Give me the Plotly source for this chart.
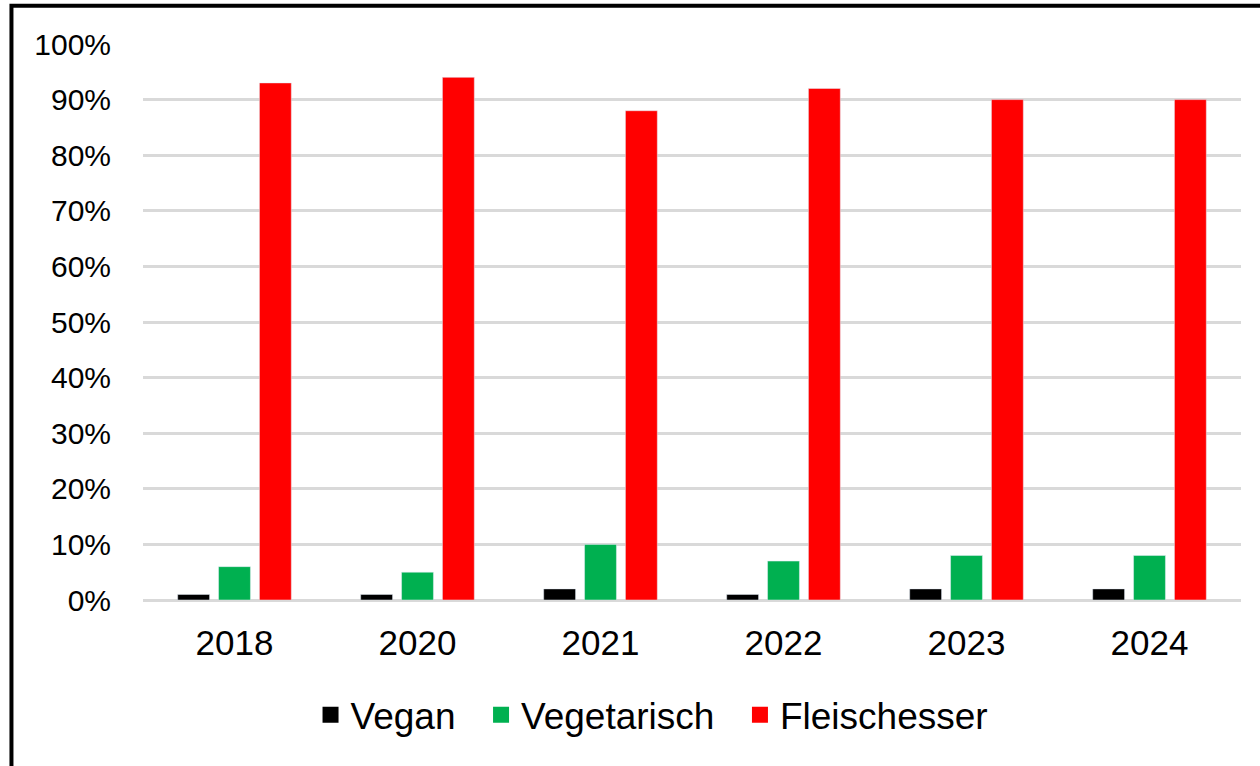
import plotly.graph_objects as go

years = ["2018", "2020", "2021", "2022", "2023", "2024"]
vegan = [0.01, 0.01, 0.02, 0.01, 0.02, 0.02]
vegetarisch = [0.06, 0.05, 0.10, 0.07, 0.08, 0.08]
fleischesser = [0.93, 0.94, 0.88, 0.92, 0.90, 0.90]

series = [("Vegan", vegan, "#000000"),
          ("Vegetarisch", vegetarisch, "#00B050"),
          ("Fleischesser", fleischesser, "#FF0000")]

fig = go.Figure()

for name, vals, col in series:
    fig.add_trace(go.Bar(x=years, y=vals, name=name, marker_color=col,
                         showlegend=False))

# legend entries with bigger square markers (nbsp pads the gap between entries)
pad = "\u00a0\u00a0"
for i, (name, vals, col) in enumerate(series):
    label = name + (pad if i < len(series) - 1 else "")
    fig.add_trace(go.Scatter(x=[None], y=[None], mode="markers", name=label,
                             marker=dict(symbol="square", size=20, color=col)))

font = "Liberation Sans, Arial, sans-serif"

fig.update_layout(
    width=1260, height=766,
    margin=dict(l=143, r=19, t=44, b=166),
    paper_bgcolor="white", plot_bgcolor="white",
    barmode="group", bargap=0.33, bargroupgap=0.22,
    font=dict(family=font, color="#000000"),
    xaxis=dict(type="category", showgrid=False, showline=False,
               ticks="outside", ticklen=12, tickcolor="rgba(0,0,0,0)",
               tickfont=dict(size=35)),
    yaxis=dict(range=[0, 1], dtick=0.1, tickformat=".0%",
               showgrid=True, gridcolor="#d9d9d9", gridwidth=3,
               zeroline=True, zerolinecolor="#d9d9d9", zerolinewidth=3,
               showline=False, ticks="outside", ticklen=25,
               tickcolor="rgba(0,0,0,0)", tickfont=dict(size=30)),
    legend=dict(orientation="h", x=0.4636, y=-0.207, xanchor="center",
                yanchor="middle", font=dict(size=37), itemwidth=30,
                bgcolor="rgba(0,0,0,0)"),
    # black frame on the left and top edges
    shapes=[dict(type="rect", xref="paper", yref="paper",
                 x0=-0.1198, x1=1.1, y0=-0.4, y1=1.069,
                 line=dict(color="black", width=4), layer="above")],
)

# drop the default body margin so the figure sits at the page corner
fig.write_html("out.html", config={"displayModeBar": False},
               post_script="document.body.style.margin='0';")
